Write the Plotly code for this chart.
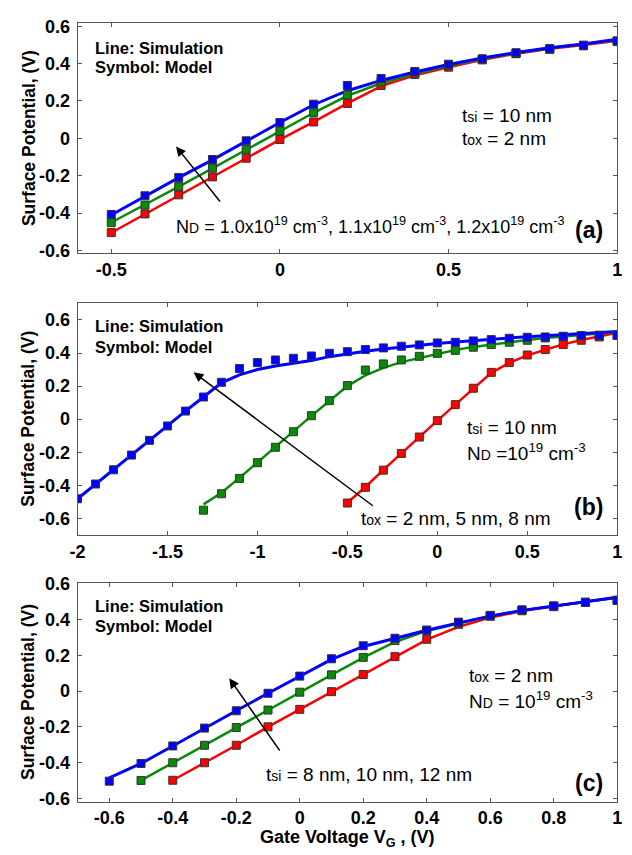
import plotly.graph_objects as go

# ---------------- data ----------------
# Panel (a): N_D = 1.0, 1.1, 1.2 x10^19 cm^-3 (red, green, blue)
xa = [-0.5, -0.4, -0.3, -0.2, -0.1, 0.0, 0.1, 0.2, 0.3, 0.4, 0.5, 0.6, 0.7, 0.8, 0.9, 1.0]
a_red_sim = [-0.505, -0.405, -0.305, -0.207, -0.107, -0.007, 0.088, 0.187, 0.280, 0.338, 0.380, 0.420, 0.453, 0.479, 0.500, 0.522]
a_grn_sim = [-0.450, -0.355, -0.258, -0.160, -0.060, 0.040, 0.137, 0.228, 0.295, 0.345, 0.388, 0.425, 0.457, 0.482, 0.503, 0.527]
a_blu_sim = [-0.410, -0.310, -0.210, -0.115, -0.015, 0.085, 0.180, 0.255, 0.310, 0.355, 0.395, 0.430, 0.460, 0.485, 0.505, 0.530]
a_red_mod = [-0.504, -0.404, -0.302, -0.206, -0.106, -0.006, 0.088, 0.187, 0.283, 0.342, 0.381, 0.420, 0.453, 0.477, 0.495, 0.518]
a_grn_mod = [-0.451, -0.357, -0.258, -0.159, -0.059, 0.039, 0.139, 0.232, 0.302, 0.351, 0.390, 0.425, 0.455, 0.479, 0.498, 0.521]
a_blu_mod = [-0.407, -0.307, -0.209, -0.113, -0.013, 0.085, 0.183, 0.283, 0.320, 0.358, 0.397, 0.425, 0.458, 0.479, 0.498, 0.521]

# Panel (b): t_ox = 2, 5, 8 nm (red, green, blue)
xb_blu = [-2.0, -1.9, -1.8, -1.7, -1.6, -1.5, -1.4, -1.3, -1.2, -1.1, -1.0, -0.9, -0.8, -0.7, -0.6, -0.5,
          -0.4, -0.3, -0.2, -0.1, 0.0, 0.1, 0.2, 0.3, 0.4, 0.5, 0.6, 0.7, 0.8, 0.9, 1.0]
b_blu_sim = [-0.481, -0.392, -0.306, -0.217, -0.128, -0.041, 0.049, 0.134, 0.220, 0.268, 0.300, 0.322, 0.338,
             0.355, 0.378, 0.395, 0.410, 0.424, 0.436, 0.447, 0.458, 0.467, 0.476, 0.484, 0.492, 0.499,
             0.505, 0.512, 0.518, 0.524, 0.530]
b_blu_mod = [-0.481, -0.392, -0.306, -0.217, -0.128, -0.041, 0.049, 0.134, 0.223, 0.306, 0.342, 0.358, 0.368,
             0.382, 0.398, 0.408, 0.421, 0.431, 0.441, 0.449, 0.461, 0.465, 0.473, 0.481, 0.489, 0.495,
             0.497, 0.500, 0.505, 0.507, 0.508]
xb_grn = [-1.3, -1.2, -1.1, -1.0, -0.9, -0.8, -0.7, -0.6, -0.5, -0.4, -0.3, -0.2, -0.1, 0.0, 0.1, 0.2,
          0.3, 0.4, 0.5, 0.6, 0.7, 0.8, 0.9, 1.0]
b_grn_sim = [-0.515, -0.445, -0.355, -0.260, -0.168, -0.075, 0.020, 0.110, 0.200, 0.265, 0.310, 0.345,
             0.370, 0.395, 0.418, 0.437, 0.452, 0.466, 0.478, 0.490, 0.500, 0.510, 0.518, 0.525]
b_grn_mod = [-0.550, -0.451, -0.358, -0.263, -0.170, -0.076, 0.021, 0.112, 0.203, 0.297, 0.334, 0.358,
             0.380, 0.398, 0.416, 0.435, 0.451, 0.465, 0.477, 0.491, 0.501, 0.505, 0.507, 0.508]
xb_red = [-0.5, -0.4, -0.3, -0.2, -0.1, 0.0, 0.1, 0.2, 0.3, 0.4, 0.5, 0.6, 0.7, 0.8, 0.9, 1.0]
b_red_sim = [-0.505, -0.410, -0.307, -0.206, -0.108, -0.009, 0.088, 0.187, 0.280, 0.340, 0.386, 0.420,
             0.452, 0.479, 0.502, 0.522]
b_red_mod = [-0.507, -0.412, -0.308, -0.207, -0.108, -0.009, 0.088, 0.187, 0.283, 0.342, 0.388, 0.421,
             0.451, 0.477, 0.497, 0.507]

# Panel (c): t_si = 8, 10, 12 nm (red, green, blue)
xc_blu = [-0.6, -0.5, -0.4, -0.3, -0.2, -0.1, 0.0, 0.1, 0.2, 0.3, 0.4, 0.5, 0.6, 0.7, 0.8, 0.9, 1.0]
c_blu_sim = [-0.486, -0.405, -0.307, -0.207, -0.110, -0.012, 0.084, 0.178, 0.250, 0.296, 0.341, 0.382,
             0.420, 0.452, 0.478, 0.500, 0.525]
c_blu_mod = [-0.504, -0.405, -0.307, -0.207, -0.110, -0.012, 0.084, 0.181, 0.254, 0.296, 0.341, 0.386,
             0.424, 0.455, 0.477, 0.497, 0.508]
xc_grn = [-0.5, -0.4, -0.3, -0.2, -0.1, 0.0, 0.1, 0.2, 0.3, 0.4, 0.5, 0.6, 0.7, 0.8, 0.9, 1.0]
c_grn_sim = [-0.500, -0.401, -0.303, -0.204, -0.106, -0.006, 0.091, 0.187, 0.275, 0.337, 0.380, 0.420,
             0.452, 0.478, 0.500, 0.525]
c_grn_mod = [-0.500, -0.401, -0.303, -0.204, -0.106, -0.006, 0.091, 0.189, 0.283, 0.341, 0.383, 0.423,
             0.452, 0.477, 0.497, 0.508]
xc_red = [-0.4, -0.3, -0.2, -0.1, 0.0, 0.1, 0.2, 0.3, 0.4, 0.5, 0.6, 0.7, 0.8, 0.9, 1.0]
c_red_sim = [-0.499, -0.401, -0.303, -0.200, -0.102, -0.003, 0.093, 0.193, 0.288, 0.360, 0.412, 0.448,
             0.476, 0.500, 0.523]
c_red_mod = [-0.499, -0.401, -0.303, -0.200, -0.102, -0.003, 0.093, 0.193, 0.290, 0.374, 0.419, 0.450,
             0.473, 0.497, 0.508]

# tick labels
yticks = [-0.6, -0.4, -0.2, 0.0, 0.2, 0.4, 0.6]
yticklabels = ["-0.6", "-0.4", "-0.2", "0", "0.2", "0.4", "0.6"]
xa_ticks = [-0.5, 0.0, 0.5, 1.0]
xa_labels = ["-0.5", "0", "0.5", "1"]
xb_ticks = [-2.0, -1.5, -1.0, -0.5, 0.0, 0.5, 1.0]
xb_labels = ["-2", "-1.5", "-1", "-0.5", "0", "0.5", "1"]
xc_ticks = [-0.6, -0.4, -0.2, 0.0, 0.2, 0.4, 0.6, 0.8, 1.0]
xc_labels = ["-0.6", "-0.4", "-0.2", "0", "0.2", "0.4", "0.6", "0.8", "1"]

# ---------------- styling ----------------
W, H = 632, 855
RED, GRN, BLU = "#ff0000", "#0a8a0a", "#0000ff"
FONT = "Liberation Sans, Arial, sans-serif"
NARROW = "Liberation Sans Narrow, Arial Narrow, Liberation Sans, sans-serif"


def px(x):
    return x / W


def py(y):
    return 1 - y / H


fig = go.Figure()


def add_line(x, ysim, color, xa_name, ya_name, lw):
    fig.add_trace(go.Scatter(x=x, y=ysim, mode="lines", line=dict(color=color, width=lw),
                             xaxis=xa_name, yaxis=ya_name, showlegend=False))


def add_markers(x, ymod, color, xa_name, ya_name):
    fig.add_trace(go.Scatter(x=x, y=ymod, mode="markers",
                             marker=dict(symbol="square", size=8, color=color,
                                         line=dict(color="#333333", width=1)),
                             xaxis=xa_name, yaxis=ya_name, showlegend=False))


panels = [
    ("x", "y", [(xa, a_red_sim, a_red_mod, RED, 2.5), (xa, a_grn_sim, a_grn_mod, GRN, 2.5),
                (xa, a_blu_sim, a_blu_mod, BLU, 3)]),
    ("x2", "y2", [(xb_red, b_red_sim, b_red_mod, RED, 2.5), (xb_grn, b_grn_sim, b_grn_mod, GRN, 2.5),
                  (xb_blu, b_blu_sim, b_blu_mod, BLU, 3)]),
    ("x3", "y3", [(xc_red, c_red_sim, c_red_mod, RED, 2.5), (xc_grn, c_grn_sim, c_grn_mod, GRN, 2.5),
                  (xc_blu, c_blu_sim, c_blu_mod, BLU, 3)]),
]
for xn, yn, series in panels:
    for x, ys, ym, c, lw in series:
        add_line(x, ys, c, xn, yn, lw)
    for x, ys, ym, c, lw in series:
        add_markers(x, ym, c, xn, yn)

tickfont = dict(family=FONT, size=18, color="black", weight="bold")
axis_common = dict(showline=True, linecolor="#555555", linewidth=1, mirror="ticks",
                   ticks="inside", ticklen=4, tickcolor="#555555", showgrid=False,
                   zeroline=False, tickfont=tickfont)

xdom = [px(71), px(622)]
layout = dict(
    width=W, height=H, margin=dict(l=0, r=0, t=0, b=0),
    paper_bgcolor="white", plot_bgcolor="white", showlegend=False,
    xaxis=dict(domain=xdom, range=[-0.6, 1.0], tickvals=xa_ticks, ticktext=xa_labels,
               anchor="y", **axis_common),
    yaxis=dict(domain=[py(249), py(14.7)], range=[-0.615, 0.615], tickvals=yticks,
               ticktext=yticklabels, anchor="x", ticklabelstandoff=3, **axis_common),
    xaxis2=dict(domain=xdom, range=[-2.0, 1.0], tickvals=xb_ticks, ticktext=xb_labels,
                anchor="y2", **axis_common),
    yaxis2=dict(domain=[py(536), py(300)], range=[-0.7, 0.7], tickvals=yticks,
                ticktext=yticklabels, anchor="x2", ticklabelstandoff=3, **axis_common),
    xaxis3=dict(domain=xdom, range=[-0.7, 1.0], tickvals=xc_ticks, ticktext=xc_labels,
                anchor="y3", **axis_common),
    yaxis3=dict(domain=[py(808), py(585)], range=[-0.62, 0.605], tickvals=yticks,
                ticktext=yticklabels, anchor="x3", ticklabelstandoff=3, **axis_common),
)
fig.update_layout(**layout)

ann = []


def text(xp, yp, s, size=14, bold=True, family=FONT, xanchor="left", angle=0):
    ann.append(dict(x=px(xp), y=py(yp), xref="paper", yref="paper", text=s, showarrow=False,
                    xanchor=xanchor, yanchor="middle", textangle=angle,
                    font=dict(family=family, size=size, color="black",
                              weight="bold" if bold else "normal")))


def sm(s, size=14):
    return '<span style="font-size:%dpx">%s</span>' % (size, s)


def arrow(xr, yr, x0, y0, x1, y1):
    ann.append(dict(x=x1, y=y1, ax=x0, ay=y0, xref=xr, yref=yr, axref=xr, ayref=yr, text="",
                    showarrow=True, arrowhead=2, arrowsize=1.3, arrowwidth=1.5,
                    arrowcolor="black"))


# Panel labels
for y1, y2 in [(39.5, 59.5), (323.3, 344.3), (608.3, 628.3)]:
    text(87, y1, "Line: Simulation", 16.5)
    text(87, y2, "Symbol: Model", 16.5)

text(462, 108.5, "t" + sm("si") + " = 10 nm", 19, bold=False, family=NARROW)
text(462, 132, "t" + sm("ox") + " = 2 nm", 19, bold=False, family=NARROW)
text(169, 220.5, "N" + sm("D") + " = 1.0x10<sup>19</sup> cm<sup>-3</sup>, 1.1x10<sup>19</sup> cm<sup>-3</sup>, "
     "1.2x10<sup>19</sup> cm<sup>-3</sup>", 18, bold=False, family=NARROW)
text(593, 225, "(a)", 23, xanchor="center")

text(467, 426, "t" + sm("si") + " = 10 nm", 19, bold=False, family=NARROW)
text(467, 451, "N" + sm("D") + " =10<sup>19</sup> cm<sup>-3</sup>", 19, bold=False, family=NARROW)
text(358, 519, "t" + sm("ox") + " = 2 nm, 5 nm, 8 nm", 19, bold=False, family=NARROW)
text(593, 507, "(b)", 23, xanchor="center")

text(469, 679, "t" + sm("ox") + " = 2 nm", 19, bold=False, family=NARROW)
text(469, 704, "N" + sm("D") + " = 10<sup>19</sup> cm<sup>-3</sup>", 19, bold=False, family=NARROW)
text(261, 780.5, "t" + sm("si") + " = 8 nm, 10 nm, 12 nm", 19, bold=False, family=NARROW)
text(593, 789, "(c)", 23, xanchor="center")

# axis titles
for yc in [132, 418, 696.5]:
    text(21, yc, "Surface Potential, (V)", 17.5, xanchor="center", angle=-90)
text(346.5, 845, "Gate Voltage V<sub>G</sub> , (V)", 18, xanchor="center")

# arrows
arrow("x", "y", -0.174, -0.346, -0.308, -0.043)
arrow("x2", "y2", -0.35, -0.53, -1.355, 0.283)
arrow("x3", "y3", -0.06, -0.341, -0.222, 0.0715)

fig.update_layout(annotations=ann)
fig.write_html("out.html")
